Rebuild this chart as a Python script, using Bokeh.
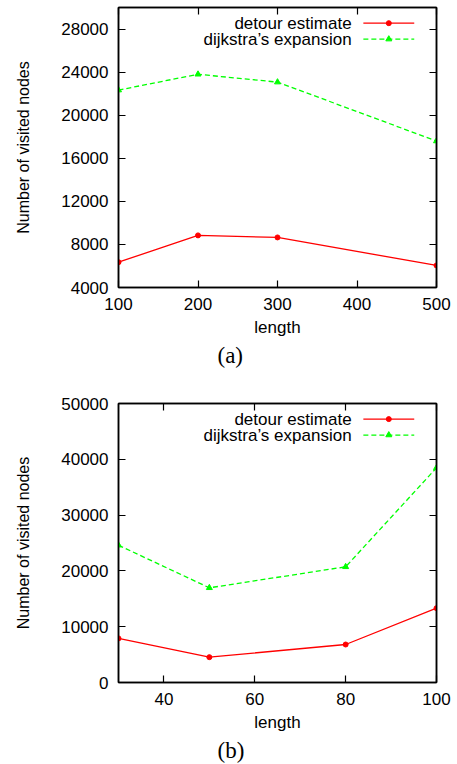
from bokeh.plotting import figure
from bokeh.models import LinearAxis, FixedTicker, Range1d, Title, BasicTickFormatter
from bokeh.layouts import column
from bokeh.embed import file_html
from bokeh.resources import INLINE
from bokeh.core.properties import value

# ---- data (a) ----
len_a = [100, 200, 300, 500]
detour_a = [6350, 8840, 8650, 6050]
dijkstra_a = [22330, 23800, 23070, 17600]
xticks_a = [100, 200, 300, 400, 500]
yticks_a = [4000, 8000, 12000, 16000, 20000, 24000, 28000]

# ---- data (b) ----
len_b = [30, 50, 80, 100]
detour_b = [7900, 4540, 6810, 13320]
dijkstra_b = [24600, 16970, 20730, 38470]
xticks_b = [40, 60, 80, 100]
yticks_b = [0, 10000, 20000, 30000, 40000, 50000]

series_names = ["detour estimate", "dijkstra\u2019s expansion"]
x_label = "length"
y_label = "Number of visited nodes"

RED = "#ff0000"
GREEN = "#00ff00"
SANS = "Liberation Sans"
SERIF = "Liberation Serif"


def style_axis(ax, ticks, labels=True):
    ax.ticker = FixedTicker(ticks=ticks)
    ax.major_tick_in = 7
    ax.major_tick_out = 0
    ax.minor_tick_line_color = None
    ax.axis_line_color = "black"
    ax.axis_line_width = 1.5
    ax.major_tick_line_color = "black"
    ax.major_tick_line_width = 1.2
    if labels:
        ax.major_label_text_font = SANS
        ax.major_label_text_font_size = "17px"
        ax.major_label_text_color = "black"
        ax.axis_label_text_font = SANS
        ax.axis_label_text_font_style = "normal"
        ax.axis_label_text_color = "black"
    else:
        ax.major_label_text_font_size = "1px"
        ax.major_label_text_color = None
        ax.major_label_standoff = 0


def make_chart(xs, det, dij, xr, yr, xticks, yticks, caption, height, top, bottom):
    x0, x1 = xr
    y0, y1 = yr
    p = figure(width=452, height=height, x_range=Range1d(x0, x1), y_range=Range1d(y0, y1),
               output_backend="svg", toolbar_location=None,
               min_border_left=118, min_border_right=16,
               min_border_top=top, min_border_bottom=bottom)
    p.grid.visible = False
    p.outline_line_color = "black"
    p.outline_line_width = 1.5
    p.outline_line_alpha = 1
    p.border_fill_color = "white"
    p.background_fill_color = "white"

    xa = p.xaxis[0]
    style_axis(xa, xticks)
    xa.axis_label = x_label
    xa.axis_label_text_font_size = "17px"
    xa.major_label_standoff = 10
    xa.axis_label_standoff = 5

    ya = p.yaxis[0]
    style_axis(ya, yticks)
    ya.formatter = BasicTickFormatter(use_scientific=False)
    ya.axis_label = y_label
    ya.axis_label_text_font_size = "16px"
    ya.major_label_standoff = 10
    ya.axis_label_standoff = 26

    top_ax = LinearAxis()
    style_axis(top_ax, xticks, labels=False)
    p.add_layout(top_ax, "above")
    right_ax = LinearAxis()
    style_axis(right_ax, yticks, labels=False)
    p.add_layout(right_ax, "right")

    # data
    p.line(xs, det, line_color=RED, line_width=1.3)
    p.scatter(xs, det, marker="circle", size=5, color=RED)
    p.line(xs, dij, line_color=GREEN, line_width=1.3, line_dash="5 3")
    p.scatter(xs, dij, marker="triangle", size=6, color=GREEN)

    # gnuplot-style key (text right aligned, sample to the right)
    w = x1 - x0
    h = y1 - y0
    tx = x0 + 0.733 * w
    lx0 = x0 + 0.770 * w
    lx1 = x0 + 0.930 * w
    mx = x0 + 0.850 * w
    rows = [y1 - 0.056 * h, y1 - 0.113 * h]
    p.text(x=[tx, tx], y=rows, text=series_names, text_align="right",
           text_baseline="middle", text_font=value(SANS), text_font_size="17px",
           text_color="black")
    p.line([lx0, lx1], [rows[0], rows[0]], line_color=RED, line_width=1.3)
    p.scatter([mx], [rows[0]], marker="circle", size=5, color=RED)
    p.line([lx0, lx1], [rows[1], rows[1]], line_color=GREEN, line_width=1.3, line_dash="5 3")
    p.scatter([mx], [rows[1]], marker="triangle", size=6, color=GREEN)

    t = Title(text=caption, align="left", offset=99, text_font=SERIF,
              text_font_size="23px", text_font_style="normal", text_color="black",
              standoff=3)
    p.add_layout(t, "below")
    return p


p1 = make_chart(len_a, detour_a, dijkstra_a, (100, 500), (4000, 30000),
                xticks_a, yticks_a, "(a)", 385, 7, 98)
p2 = make_chart(len_b, detour_b, dijkstra_b, (30, 100), (0, 50000),
                xticks_b, yticks_b, "(b)", 379, 18, 82)

layout = column(p1, p2, spacing=0)
open("out.html", "w").write(file_html(layout, INLINE))
